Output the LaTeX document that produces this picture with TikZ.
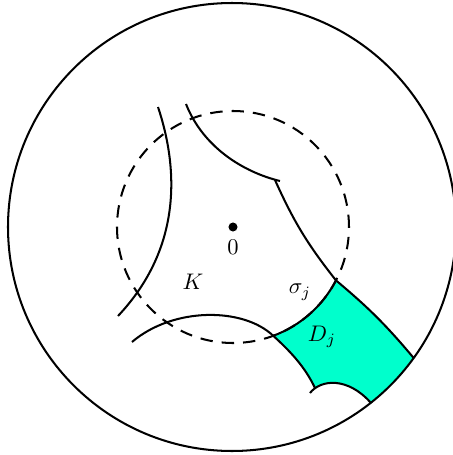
\documentclass[tikz,border=0pt]{standalone}
\usepackage{amsmath,amssymb}
\usepackage{tikz}
\definecolor{domaincyan}{RGB}{0,255,204}
\tikzset{
  bdry/.style ={line width=0.9pt, black},
  geod/.style ={line width=0.9pt, black},
  kcirc/.style={line width=0.9pt, black, dash pattern=on 5.5pt off 4pt},
  dfill/.style={fill=domaincyan},
  odot/.style ={circle, fill=black, minimum size=4pt, inner sep=0pt},
  plabel/.style={inner sep=1pt, font=\normalsize},
}
\begin{document}
\begin{tikzpicture}[x=0.0156cm, y=0.0156cm]
    \useasboundingbox (-233,-228) rectangle (220,227);
    \coordinate (Dtop)  at (-27.4:116);
    \coordinate (Dleft) at (-69.7:116);
    \coordinate (Dfoot) at (82,-161);
    \coordinate (Dtick) at (77,-166);
    \coordinate (Dout1) at (137.8,-175.8);
    \coordinate (Dout2) at (180.7,-131.0);
    \fill[dfill] (Dtop) arc[start angle=-27.4, end angle=-69.7, radius=116]
        .. controls (58,-125) and (72,-140) .. (Dfoot) -- (Dtick)
        .. controls (88,-152) and (115,-150) .. (Dout1)
        arc[start angle=-51.7, end angle=-35.8, radius=224]
        to[bend right=5] (Dtop) -- cycle;
    \draw[bdry] (-1,0) circle[radius=224];
    \draw[kcirc] (0,0) circle[radius=116];
    \node[odot] (origin) at (0,0) {};
    \node[plabel] (zero) at (0,-20) {$0$};
    \draw[geod] (-75,120) .. controls (-55,60) and (-50,-20) .. (-115,-89);
    \draw[geod] (-47,123) .. controls (-30,80) and (10,55) .. (47,46);
    \draw[geod] (42,47) to[bend right=7] (Dtop);
    \draw[geod] (-101,-115) .. controls (-60,-80) and (10,-80) .. (Dleft)
        .. controls (58,-125) and (72,-140) .. (Dfoot);
    \draw[geod] (Dtop) arc[start angle=-27.4, end angle=-69.7, radius=116];
    \draw[geod] (Dtop) to[bend left=5] (Dout2);
    \draw[geod] (Dtick) .. controls (88,-152) and (115,-150) .. (Dout1);
    \node[plabel] (Klab) at (-40,-55) {$K$};
    \node[plabel] (sigmalab) at (67,-65) {$\sigma_j$};
    \node[plabel] (Dlab) at (89,-110) {$D_j$};
\end{tikzpicture}
\end{document}
